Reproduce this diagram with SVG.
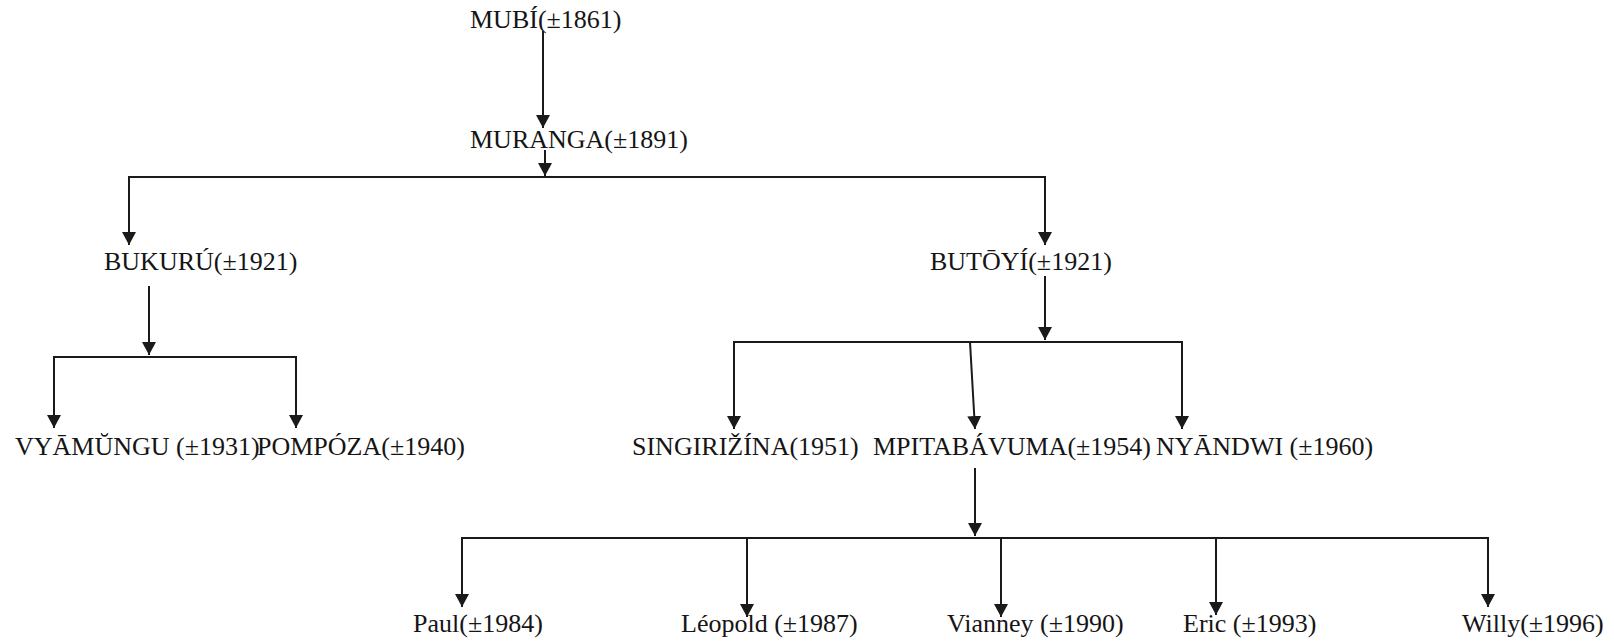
<svg xmlns="http://www.w3.org/2000/svg" width="1614" height="641" viewBox="0 0 1614 641">
<style>
  text { font-family: "Liberation Serif", "Times New Roman", serif; font-size: 26px; fill: #151515; }
  .c { fill: none; stroke: #1a1a1a; stroke-width: 2; }
</style>
<defs>
  <marker id="ah" markerWidth="14" markerHeight="14" refX="13" refY="7" orient="auto" markerUnits="userSpaceOnUse">
    <path d="M0,0 L13,7 L0,14 Z" fill="#1a1a1a"/>
  </marker>
</defs>
<rect width="1614" height="641" fill="#ffffff"/>
<g id="connectors">
  <path class="c" d="M543,31 V128" marker-end="url(#ah)"/>
  <path class="c" d="M545,150 V176" marker-end="url(#ah)"/>
  <path class="c" d="M545,177 H129 V245" marker-end="url(#ah)"/>
  <path class="c" d="M545,177 H1045 V245" marker-end="url(#ah)"/>
  <path class="c" d="M149,286 V355" marker-end="url(#ah)"/>
  <path class="c" d="M149,357 H54 V428" marker-end="url(#ah)"/>
  <path class="c" d="M149,357 H296 V428" marker-end="url(#ah)"/>
  <path class="c" d="M1045,276 V340" marker-end="url(#ah)"/>
  <path class="c" d="M1045,342 H734 V429" marker-end="url(#ah)"/>
  <path class="c" d="M1045,342 H970 L975,429" marker-end="url(#ah)"/>
  <path class="c" d="M1045,342 H1182 V429" marker-end="url(#ah)"/>
  <path class="c" d="M975,468 V536" marker-end="url(#ah)"/>
  <path class="c" d="M975,538 H462 V607" marker-end="url(#ah)"/>
  <path class="c" d="M747,538 V617" marker-end="url(#ah)"/>
  <path class="c" d="M1001,538 V617" marker-end="url(#ah)"/>
  <path class="c" d="M1216,538 V615" marker-end="url(#ah)"/>
  <path class="c" d="M975,538 H1488 V607" marker-end="url(#ah)"/>
</g>
<g id="mubi"><text x="470" y="28">MUBÍ(±1861)</text></g>
<g id="muranga"><text x="470" y="148">MURANGA(±1891)</text></g>
<g id="bukuru"><text x="104" y="270">BUKURÚ(±1921)</text></g>
<g id="butoyi"><text x="930" y="270">BUTŌYÍ(±1921)</text></g>
<g id="vyamungu"><text x="15" y="455">VYĀMŬNGU (±1931)</text></g>
<g id="pompoza"><text x="257" y="455">POMPÓZA(±1940)</text></g>
<g id="singirizina"><text x="632" y="455">SINGIRIŽÍNA(1951)</text></g>
<g id="mpitabavuma"><text x="873" y="455">MPITABÁVUMA(±1954)</text></g>
<g id="nyandwi"><text x="1156" y="455">NYĀNDWI (±1960)</text></g>
<g id="paul"><text x="413" y="632">Paul(±1984)</text></g>
<g id="leopold"><text x="681" y="632">Léopold (±1987)</text></g>
<g id="vianney"><text x="947" y="632">Vianney (±1990)</text></g>
<g id="eric"><text x="1183" y="632">Eric (±1993)</text></g>
<g id="willy"><text x="1462" y="632">Willy(±1996)</text></g>
</svg>
